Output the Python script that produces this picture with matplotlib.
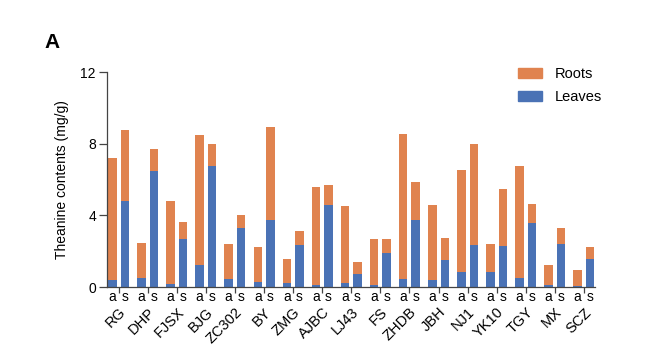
import numpy as np
import matplotlib
matplotlib.use("Agg")
import matplotlib.pyplot as plt
from matplotlib.patches import Patch

plt.rcParams['font.family'] = ['Liberation Sans', 'DejaVu Sans']

groups = ['RG', 'DHP', 'FJSX', 'BJG', 'ZC302', 'BY', 'ZMG', 'AJBC', 'LJ43',
          'FS', 'ZHDB', 'JBH', 'NJ1', 'YK10', 'TGY', 'MX', 'SCZ']
# totals (leaves + roots) and leaves part, for 'a' and 's' bars
total_a = [7.2, 2.47, 4.8, 8.49, 2.41, 2.26, 1.59, 5.59, 4.52,
           2.69, 8.56, 4.56, 6.54, 2.39, 6.75, 1.21, 0.93]
leaves_a = [0.39, 0.52, 0.17, 1.21, 0.45, 0.28, 0.22, 0.09, 0.22,
            0.09, 0.45, 0.37, 0.84, 0.84, 0.5, 0.09, 0.05]
total_s = [8.79, 7.72, 3.63, 8.0, 4.0, 8.92, 3.14, 5.68, 1.38,
           2.69, 5.85, 2.73, 8.0, 5.48, 4.65, 3.31, 2.23]
leaves_s = [4.8, 6.47, 2.71, 6.73, 3.29, 3.72, 2.37, 4.58, 0.75,
            1.92, 3.76, 1.53, 2.33, 2.28, 3.55, 2.43, 1.57]

roots_a = np.array(total_a) - np.array(leaves_a)
roots_s = np.array(total_s) - np.array(leaves_s)

orange = '#E0834F'
blue = '#4A72B5'

fig = plt.figure(figsize=(6.5, 3.54), dpi=100)
ax = fig.add_axes([0.1646, 0.189, 0.7508, 0.6076])

x = np.arange(len(groups))
off = 0.215
w = 0.29
xa = x - off
xs = x + off

ax.bar(xa, leaves_a, w, color=blue)
ax.bar(xa, roots_a, w, bottom=leaves_a, color=orange)
ax.bar(xs, leaves_s, w, color=blue)
ax.bar(xs, roots_s, w, bottom=leaves_s, color=orange)

ax.set_xlim(-0.40, len(groups) - 1 + 0.38)
ax.set_ylim(0, 12)
ax.set_yticks([0, 4, 8, 12])
ax.set_ylabel('Theanine contents (mg/g)', fontsize=10, labelpad=8)

for s in ['top', 'right']:
    ax.spines[s].set_visible(False)
for s in ['left', 'bottom']:
    ax.spines[s].set_color('#444444')
    ax.spines[s].set_linewidth(0.9)

ax.tick_params(axis='y', length=6, width=0.9, color='#444444', labelsize=10, pad=2)

# group names at major ticks, a/s labels at minor ticks
ax.set_xticks(x)
ax.set_xticklabels(groups, rotation=45, ha='right', rotation_mode='anchor', fontsize=10.5)
ax.set_xticks(np.concatenate([xa, xs]), minor=True)
ax.set_xticklabels(['a'] * len(groups) + ['s'] * len(groups), minor=True, fontsize=10)
ax.tick_params(axis='x', which='major', length=4, width=0.9, color='#444444', pad=9)
ax.tick_params(axis='x', which='minor', length=0, pad=2)

handles = [Patch(color=orange, label='Roots'), Patch(color=blue, label='Leaves')]
ax.legend(handles=handles, loc='upper left', bbox_to_anchor=(518 / 650, 1 - 67 / 354),
          bbox_transform=fig.transFigure, frameon=False, borderpad=0, borderaxespad=0,
          fontsize=10.5, handlelength=1.65, handleheight=0.7, handletextpad=0.9,
          labelspacing=0.65)

fig.text(0.068, 0.864, 'A', fontsize=15, fontweight='bold')

fig.savefig('out.png', dpi=100)
